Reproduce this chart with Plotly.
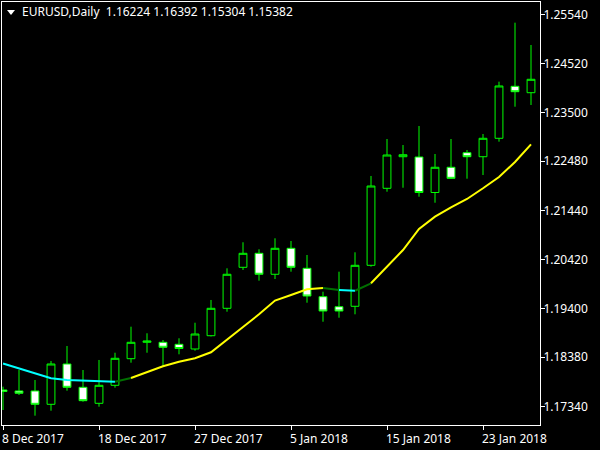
import plotly.graph_objects as go

# ---- data ----
open_ = [1.17690, 1.17669, 1.17669, 1.17390, 1.18234, 1.17746, 1.17411, 1.17788, 1.18345, 1.18688,
         1.18688, 1.18646, 1.18548, 1.18826, 1.19400, 1.20258, 1.20551, 1.20112, 1.20656, 1.20237,
         1.19643, 1.19433, 1.19442, 1.20300, 1.21912, 1.22573, 1.22567, 1.21824, 1.22352, 1.22657,
         1.22573, 1.22959, 1.24047, 1.23913]
high = [1.17759, 1.18108, 1.17899, 1.18297, 1.18611, 1.18108, 1.18318, 1.18470, 1.19015, 1.18877,
        1.18736, 1.18772, 1.19098, 1.19574, 1.20237, 1.20782, 1.20635, 1.20865, 1.20809, 1.20516,
        1.19747, 1.20166, 1.20572, 1.22170, 1.22944, 1.22818, 1.23216, 1.22630, 1.22944, 1.22714,
        1.23049, 1.24144, 1.25379, 1.24912]
low = [1.17271, 1.17585, 1.17152, 1.17256, 1.17675, 1.17445, 1.17340, 1.17738, 1.18261, 1.18470,
       1.18177, 1.18437, 1.18512, 1.18810, 1.19329, 1.20202, 1.19978, 1.20013, 1.20166, 1.19517,
       1.19119, 1.19203, 1.19274, 1.20271, 1.21841, 1.21924, 1.21736, 1.21610, 1.22107, 1.22113,
       1.22190, 1.22888, 1.23620, 1.23656]
close = [1.17658, 1.17621, 1.17390, 1.18234, 1.17746, 1.17466, 1.17788, 1.18353, 1.18688, 1.18715,
         1.18584, 1.18558, 1.18862, 1.19400, 1.20112, 1.20551, 1.20112, 1.20656, 1.20258, 1.19657,
         1.19343, 1.19343, 1.20300, 1.21960, 1.22609, 1.22615, 1.21824, 1.22352, 1.22121, 1.22573,
         1.22959, 1.24054, 1.23934, 1.24194]

ma = [1.18244, 1.18140, 1.18025, 1.17935, 1.17899, 1.17884, 1.17872, 1.17863, 1.17941, 1.18066,
      1.18186, 1.18282, 1.18353, 1.18479, 1.18736, 1.19008, 1.19274, 1.19563, 1.19678, 1.19798,
      1.19825, 1.19783, 1.19768, 1.19923, 1.20281, 1.20620, 1.21060, 1.21318, 1.21514, 1.21688,
      1.21912, 1.22149, 1.22463, 1.22833]
# colour of each MA segment (bar i -> bar i+1)
ma_seg_colors = (["#00FFFF"] * 7 + ["#007000"] + ["#FFFF00"] * 12 +
                 ["#007000", "#00FFFF", "#007000"] + ["#FFFF00"] * 10)

date_labels = ["8 Dec 2017", "18 Dec 2017", "27 Dec 2017", "5 Jan 2018", "15 Jan 2018", "23 Jan 2018"]
date_index = [0, 6, 12, 18, 24, 30]

price_ticks = [1.25540, 1.24520, 1.23500, 1.22480, 1.21440, 1.20420, 1.19400, 1.18380, 1.17340]
price_tick_text = ["1.25540", "1.24520", "1.23500", "1.22480", "1.21440", "1.20420", "1.19400", "1.18380", "1.17340"]

title_text = "EURUSD,Daily\u00a0\u00a01.16224 1.16392 1.15304 1.15382"

# ---- figure ----
idx = list(range(len(open_)))
fig = go.Figure()

fig.add_trace(go.Candlestick(
    x=idx, open=open_, high=high, low=low, close=close,
    increasing=dict(line=dict(color="#00FF00", width=1), fillcolor="#000000"),
    decreasing=dict(line=dict(color="#00FF00", width=1), fillcolor="#FFFFFF"),
    whiskerwidth=0, hoverinfo="skip", showlegend=False,
))

# MA line drawn as colour runs
start = 0
for i in range(1, len(ma_seg_colors) + 1):
    if i == len(ma_seg_colors) or ma_seg_colors[i] != ma_seg_colors[start]:
        xs = idx[start:i + 1]
        ys = ma[start:i + 1]
        fig.add_trace(go.Scatter(x=xs, y=ys, mode="lines",
                                 line=dict(color=ma_seg_colors[start], width=2),
                                 hoverinfo="skip", showlegend=False))
        start = i

font = dict(family="Noto Sans", size=12, color="#FFFFFF")

annotations = [dict(text=title_text, xref="paper", yref="paper", x=0.0335, y=0.9764,
                    xanchor="left", yanchor="middle", showarrow=False, font=font)]
for lab, xi in zip(date_labels, date_index):
    annotations.append(dict(text=lab, xref="x", yref="paper", x=xi, y=-0.031,
                            xanchor="left", yanchor="middle", xshift=-3,
                            showarrow=False, font=font))

fig.update_layout(
    width=600, height=450,
    margin=dict(l=2, r=60, t=2, b=25, autoexpand=False),
    paper_bgcolor="#000000", plot_bgcolor="#000000",
    showlegend=False,
    boxgap=0.3,
    font=font,
    annotations=annotations,
    shapes=[dict(type="path", xref="paper", yref="paper",
                 path="M 0.00929 0.98109 L 0.02416 0.98109 L 0.01673 0.96927 Z",
                 fillcolor="#FFFFFF", line=dict(width=0))],
    xaxis=dict(range=[-0.0625, 33.5625], rangeslider=dict(visible=False),
               automargin=False, showgrid=False, zeroline=False,
               showline=True, mirror=True, linecolor="#FFFFFF", linewidth=1,
               tickmode="array", tickvals=date_index, ticks="outside", ticklen=4,
               tickcolor="#FFFFFF", showticklabels=False),
    yaxis=dict(range=[1.169569, 1.258120], side="right", automargin=False,
               showgrid=False, zeroline=False,
               showline=True, mirror=True, linecolor="#FFFFFF", linewidth=1,
               tickmode="array", tickvals=price_ticks, ticktext=price_tick_text,
               ticks="outside", ticklen=4, tickcolor="#FFFFFF", tickfont=font,
               ticklabelstandoff=-4),
)

fig.write_html("out.html", config={"displayModeBar": False},
               post_script="document.body.style.margin='0';")
